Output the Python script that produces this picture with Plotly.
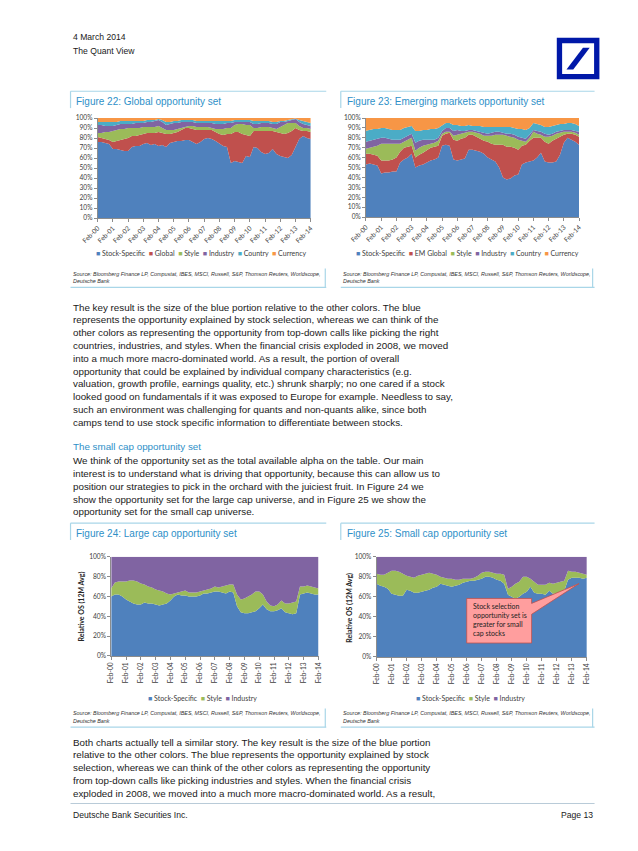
import plotly.graph_objects as go
import pandas as pd

W, H = 638, 851
def X(p): return p / W
def Y(p): return 1 - p / H

# ---------------- data (quarterly readings, Feb-00 .. Feb-14) ----------------
dates = pd.date_range("2000-02-01", "2014-02-01", freq="3MS")

names22 = ["Stock-Specific", "Global", "Style", "Industry", "Country", "Currency"]
names23 = ["Stock-Specific", "EM Global", "Style", "Industry", "Country", "Currency"]
names24 = ["Stock-Specific", "Style", "Industry"]

g22_stock = [76,76,75,74, 69,69,68,67, 67,71,72,72, 74,75,73,74, 72,73,71,75, 76,77,77,78, 78,76,74,76, 79,80,79,77, 74,72,71,55, 57,56,55,62, 61,71,70,66, 64,65,69,64, 62,61,60,63, 72,79,82,80, 79]
g22_global = [5,4,4,4, 7,8,10,12, 13,11,10,11, 10,10,12,11, 14,12,13,9, 9,9,11,12, 12,13,14,12, 9,8,9,9, 10,11,13,29, 29,30,29,21, 21,16,17,21, 23,22,18,22, 23,23,25,24, 18,9,5,7, 7]
g22_style = [4,5,7,8, 11,11,11,10, 10,8,8,7, 7,6,6,6, 6,5,4,4, 3,3,2,1, 2,3,3,3, 3,3,2,3, 5,6,6,6, 7,8,10,10, 11,3,3,4, 4,4,3,3, 6,9,10,8, 5,4,3,3, 3]
g22_industry = [8,8,6,6, 5,5,5,5, 4,4,5,5, 4,5,5,6, 6,6,5,6, 7,6,6,5, 4,4,4,4, 4,4,5,5, 5,5,5,5, 3,2,2,3, 3,4,4,4, 4,4,4,5, 5,3,2,3, 4,4,4,3, 3]
g22_country = [3,3,4,4, 4,3,3,3, 3,3,2,2, 2,2,2,1, 1,2,3,2, 2,2,2,2, 2,2,2,2, 2,2,2,3, 3,3,2,2, 2,2,2,2, 2,3,3,2, 2,2,2,2, 1,1,1,1, 0.5,2,3,3, 3]
g22_currency = [4,4,4,4, 4,4,3,3, 3,3,3,3, 3,2,2,2, 1,2,4,4, 3,3,2,2, 2,2,3,3, 3,3,3,3, 3,3,3,3, 2,2,2,2, 2,3,3,3, 3,3,4,4, 3,3,2,1, 0.5,2,3,4, 5]

g23_stock = [53,54,53,52, 44,45,45,46, 46,55,58,60, 64,50,52,53, 55,57,58,60, 72,73,72,58, 57,58,59,68, 68,67,66,64, 60,58,56,50, 40,38,39,42, 43,53,55,56, 57,60,65,56, 55,55,56,63, 75,80,78,76, 73]
g23_global = [11,10,10,10, 13,12,12,12, 14,11,12,11, 8,10,11,12, 13,13,13,12, 10,11,13,20, 20,21,21,15, 15,14,13,13, 16,16,17,23, 33,33,32,28, 25,19,18,21, 23,20,15,20, 19,22,23,18, 8,4,6,7, 8]
g23_style = [5,6,8,10, 17,17,17,16, 14,8,6,7, 8,7,7,7, 5,4,4,5, 2,2,1,4, 6,5,5,3, 3,4,5,5, 6,8,10,10, 10,11,10,10, 10,5,3,3, 6,4,3,5, 7,5,5,4, 3,2,2,2, 2]
g23_industry = [7,7,7,7, 6,6,5,4, 4,4,4,4, 4,8,7,6, 5,4,3,3, 3,4,4,5, 5,3,2,2, 2,2,2,3, 2,3,3,3, 2,2,3,3, 3,3,3,3, 2,3,3,3, 2,2,2,2, 2,2,2,2, 3]
g23_country = [11,11,11,10, 10,10,10,10, 10,10,10,9, 8,12,10,10, 10,11,11,10, 6,5,5,6, 5,5,5,5, 4,5,6,6, 7,6,5,5, 6,7,7,7, 8,9,9,7, 7,7,7,7, 8,8,7,7, 6,7,7,7, 6]
g23_currency = [13,12,11,11, 10,10,11,12, 12,12,10,9, 8,13,13,12, 12,11,11,10, 7,5,5,7, 7,8,8,7, 8,8,8,9, 9,9,9,9, 9,9,9,10, 11,11,12,10, 5,6,7,9, 9,8,7,6, 6,5,5,6, 8]

g24_stock = [60,62,62,60, 57,55,53,52, 52,54,53,53, 52,51,52,53, 56,60,62,61, 61,60,60,60, 61,63,63,64, 65,65,64,63, 65,64,50,44, 43,43,44,45, 48,52,47,45, 45,46,48,44, 43,42,43,62, 63,64,63,62, 62]
g24_style = [8,12,13,15, 18,21,23,23, 21,18,17,16, 15,15,13,10, 6,3,2,4, 5,4,4,4, 4,3,4,4, 5,4,6,8, 7,8,12,13, 15,17,18,20, 17,10,8,6, 5,6,8,9, 10,12,12,8, 7,7,7,7, 6]
g24_industry = [32,26,25,25, 25,24,24,25, 27,28,30,31, 33,34,35,37, 38,37,36,35, 34,36,36,36, 35,34,33,32, 30,31,30,29, 28,28,38,43, 42,40,38,35, 35,38,45,49, 50,48,44,47, 47,46,45,30, 30,29,30,31, 32]

g25_stock = [73,71,70,68, 63,62,61,61, 67,66,64,64, 65,66,67,69, 70,73,72,71, 70,71,72,74, 75,76,76,77, 78,80,80,79, 77,76,73,62, 60,58,60,63, 65,70,64,63, 63,62,66,63, 63,64,66,77, 79,79,79,78, 79]
g25_style = [10,11,12,16, 23,24,24,22, 14,14,15,17, 17,17,17,14, 12,7,7,7, 8,6,5,4, 3,2,3,4, 6,5,5,5, 6,7,9,6, 10,15,15,17, 15,8,11,9, 9,10,8,10, 11,11,10,9, 6,6,5,5, 3]
g25_industry = [17,18,18,16, 14,14,15,17, 19,20,21,19, 18,17,16,17, 18,20,21,22, 22,23,23,22, 22,22,21,19, 16,15,15,16, 17,17,18,32, 30,27,25,20, 20,22,25,28, 28,28,26,27, 26,25,24,14, 15,15,16,17, 18]

# ---------------- styling ----------------
BLUE, RED, GREEN, PURPLE, AQUA, ORANGE = "#4F81BD", "#C0504D", "#9BBB59", "#8064A2", "#4BACC6", "#F79646"
cols6 = [BLUE, RED, GREEN, PURPLE, AQUA, ORANGE]
cols3 = [BLUE, GREEN, PURPLE]
CF = "Lato"
BF = "Liberation Sans"
TXT = "#1a1a1a"
TITLE_C = "#2E90C8"
RULE_C = "#A9D6E8"
AX_C = "#8C8C8C"
TICK_SIZE = 6.6
LEG_SIZE = 7

fig = go.Figure()

def add_stack(series, names, colors, xa, ya, group):
    for vals, name, col in zip(series, names, colors):
        fig.add_trace(go.Scatter(
            x=dates, y=vals, name=name, mode="lines",
            line=dict(width=0, color=col), fillcolor=col,
            stackgroup=group, groupnorm="percent",
            xaxis=xa, yaxis=ya, showlegend=False))

add_stack([g22_stock, g22_global, g22_style, g22_industry, g22_country, g22_currency], names22, cols6, "x", "y", "s22")
add_stack([g23_stock, g23_global, g23_style, g23_industry, g23_country, g23_currency], names23, cols6, "x2", "y2", "s23")
add_stack([g24_stock, g24_style, g24_industry], names24, cols3, "x3", "y3", "s24")
add_stack([g25_stock, g25_style, g25_industry], names24, cols3, "x4", "y4", "s25")

def xax(x0, x1, ang, anchor):
    return dict(domain=[X(x0), X(x1)], anchor=anchor, type="date",
                range=["2000-02-01", "2014-02-01"], tick0="2000-02-01", dtick="M12",
                tickformat="%b-%y", tickangle=ang,
                tickfont=dict(family=CF, size=TICK_SIZE, color="#404040"),
                showline=True, linecolor=AX_C, linewidth=0.8, ticks="outside",
                ticklen=3, tickcolor=AX_C, tickwidth=0.8,
                showgrid=False, zeroline=False, fixedrange=True)

def yax(top, bot, dt, anchor):
    return dict(domain=[Y(bot), Y(top)], anchor=anchor, range=[0, 100], dtick=dt, tick0=0,
                ticksuffix="%", tickfont=dict(family=CF, size=TICK_SIZE, color="#404040"),
                showline=True, linecolor=AX_C, linewidth=0.8, ticks="outside",
                ticklen=3, tickcolor=AX_C, tickwidth=0.8,
                showgrid=False, zeroline=False, fixedrange=True)

fig.update_layout(
    width=W, height=H, margin=dict(l=0, r=0, t=0, b=0),
    paper_bgcolor="white", plot_bgcolor="white", showlegend=False,
    xaxis=xax(75, 295, -45, "y"), yaxis=yax(106, 207, 10, "x"),
    xaxis2=xax(352, 572, -45, "y2"), yaxis2=yax(106, 206, 10, "x2"),
    xaxis3=xax(89, 303, -90, "y3"), yaxis3=yax(549, 649, 20, "x3"),
    xaxis4=xax(363, 580, -90, "y4"), yaxis4=yax(549, 650, 20, "x4"),
)

ann = []
def text(x, y, s, size=9.8, color=TXT, family=BF, xanchor="left", yanchor="middle", **kw):
    ann.append(dict(x=X(x), y=Y(y), xref="paper", yref="paper", text=s, showarrow=False,
                    xanchor=xanchor, yanchor=yanchor, align="left",
                    font=dict(family=family, size=size, color=color), **kw))

def legend_text(names, colors):
    return "\u00a0\u00a0".join(f"<span style='color:{c}'>■</span>\u00a0{n}" for n, c in zip(names, colors))

# header
text(47, 24, "4 March 2014", size=8.6)
text(47, 38, "The Quant View", size=8.6)

# figure titles
text(51, 89, "Figure 22: Global opportunity set", size=10, color=TITLE_C)
text(330, 89, "Figure 23: Emerging markets opportunity set", size=10, color=TITLE_C)
text(51, 525, "Figure 24: Large cap opportunity set", size=10, color=TITLE_C)
text(330, 525, "Figure 25: Small cap opportunity set", size=10, color=TITLE_C)

# legends
text(182, 242, legend_text(names22, cols6), size=LEG_SIZE, family=CF, color="#404040", xanchor="center")
text(457, 242, legend_text(names23, cols6), size=LEG_SIZE, family=CF, color="#404040", xanchor="center")
text(183, 691, legend_text(names24, cols3), size=LEG_SIZE, family=CF, color="#404040", xanchor="center")
text(460, 691, legend_text(names24, cols3), size=LEG_SIZE, family=CF, color="#404040", xanchor="center")

# y-axis titles
text(58, 599, "<b>Relative OS (12M Avg)</b>", size=7, family=CF, color="#262626", xanchor="center", textangle=-90)
text(335, 600, "<b>Relative OS (12M Avg)</b>", size=7, family=CF, color="#262626", xanchor="center", textangle=-90)

# sources
src1 = "<i>Source: Bloomberg Finance LP, Compustat, IBES, MSCI, Russell, S&amp;P, Thomson Reuters, Worldscope,</i>"
src2 = "<i>Deutsche Bank</i>"
for sx, sy in [(47, 263), (326, 263), (47, 707), (326, 707)]:
    text(sx, sy, src1, size=5.4, color="#333333")
    text(sx, sy + 8, src2, size=5.4, color="#333333")

# callout text
text(460, 593, "Stock selection<br>opportunity set is<br>greater for small<br>cap stocks", size=7,
     family=CF, color="#222222", yanchor="top")

# body text
para1 = [
    "The key result is the size of the blue portion relative to the other colors. The blue",
    "represents the opportunity explained by stock selection, whereas we can think of the",
    "other colors as representing the opportunity from top-down calls like picking the right",
    "countries, industries, and styles. When the financial crisis exploded in 2008, we moved",
    "into a much more macro-dominated world. As a result, the portion of overall",
    "opportunity that could be explained by individual company characteristics (e.g.",
    "valuation, growth profile, earnings quality, etc.) shrunk sharply; no one cared if a stock",
    "looked good on fundamentals if it was exposed to Europe for example. Needless to say,",
    "such an environment was challenging for quants and non-quants alike, since both",
    "camps tend to use stock specific information to differentiate between stocks.",
]
para2 = [
    "We think of the opportunity set as the total available alpha on the table. Our main",
    "interest is to understand what is driving that opportunity, because this can allow us to",
    "position our strategies to pick in the orchard with the juiciest fruit. In Figure 24 we",
    "show the opportunity set for the large cap universe, and in Figure 25 we show the",
    "opportunity set for the small cap universe.",
]
para3 = [
    "Both charts actually tell a similar story. The key result is the size of the blue portion",
    "relative to the other colors. The blue represents the opportunity explained by stock",
    "selection, whereas we can think of the other colors as representing the opportunity",
    "from top-down calls like picking industries and styles. When the financial crisis",
    "exploded in 2008, we moved into a much more macro-dominated world. As a result,",
]
LS = 12.9
for i, line in enumerate(para1):
    text(47, 297 + i * LS, line)
text(47, 438, "The small cap opportunity set", color=TITLE_C)
for i, line in enumerate(para2):
    text(47, 452 + i * LS, line)
for i, line in enumerate(para3):
    text(47, 736 + i * LS, line)

# footer
text(47, 810, "Deutsche Bank Securities Inc.", size=8.6)
text(588, 810, "Page 13", size=8.6, xanchor="right")

fig.update_layout(annotations=ann)

# ---------------- decorative shapes ----------------
shapes = []
def line(x0, y0, x1, y1, color=RULE_C, width=1.2):
    shapes.append(dict(type="line", xref="paper", yref="paper", x0=X(x0), y0=Y(y0), x1=X(x1), y1=Y(y1),
                       line=dict(color=color, width=width)))

for top, bot in [(79, 277), (515, 721)]:
    line(47, top, 311, top); line(326, top, 588, top)
    line(47, top, 47, top + 17); line(326, top, 326, top + 17)
    line(47, bot, 311, bot); line(326, bot, 588, bot)
    line(310, bot - 19, 310, bot); line(586, bot - 19, 586, bot)
line(47, 798, 588, 798, color="#B9CBD8", width=1)

def path(pts):
    return "M " + " L ".join(f"{X(a):.5f},{Y(b):.5f}" for a, b in pts) + " Z"

# logo
shapes.append(dict(type="rect", xref="paper", yref="paper", x0=X(549), x1=X(593), y0=Y(67), y1=Y(25),
                   fillcolor="#0018A8", line=dict(width=0)))
shapes.append(dict(type="rect", xref="paper", yref="paper", x0=X(554.5), x1=X(587.5), y0=Y(61.5), y1=Y(30.5),
                   fillcolor="white", line=dict(width=0)))
shapes.append(dict(type="path", xref="paper", yref="paper",
                   path=path([(559, 57), (566, 57), (583, 35), (576, 35)]),
                   fillcolor="#0018A8", line=dict(width=0)))

# callout in Figure 25
shapes.append(dict(type="path", xref="paper", yref="paper",
                   path=path([(456, 591), (523, 591), (523, 596), (572, 576), (523, 607), (523, 636), (456, 636)]),
                   fillcolor="#FF9E9E", line=dict(color="#C0504D", width=0.8), layer="above"))

fig.update_layout(shapes=shapes)

fig.write_html("out.html")
